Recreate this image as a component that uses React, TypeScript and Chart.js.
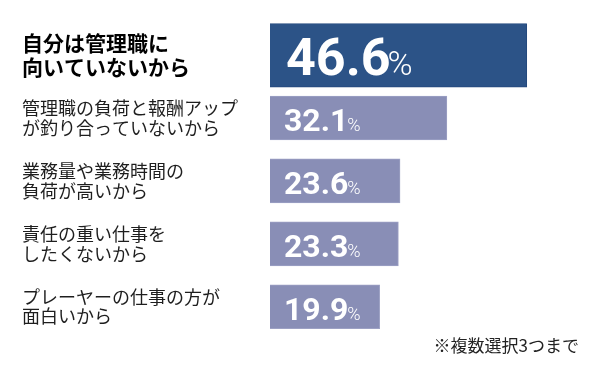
import React, { useEffect, useRef } from "react";
import { Chart, registerables } from "chart.js";

Chart.register(...registerables);

const categories: string[][] = [
  ["自分は管理職に", "向いていないから"],
  ["管理職の負荷と報酬アップ", "が釣り合っていないから"],
  ["業務量や業務時間の", "負荷が高いから"],
  ["責任の重い仕事を", "したくないから"],
  ["プレーヤーの仕事の方が", "面白いから"],
];
const values: number[] = [46.6, 32.1, 23.6, 23.3, 19.9];
const footnote = "※複数選択3つまで";

const HIGHLIGHT = "#2c5387";
const NORMAL = "#898eb6";
const JP_FONT = "'Noto Sans CJK JP', 'Noto Sans', sans-serif";
const NUM_FONT = "Roboto, 'Noto Sans', sans-serif";

const valueLabelPlugin = {
  id: "valueLabels",
  afterDatasetsDraw(chart: any) {
    const ctx = chart.ctx;
    ctx.save();
    values.forEach((v, i) => {
      const meta = chart.getDatasetMeta(i === 0 ? 0 : 1);
      const el = meta.data[i];
      if (!el) return;
      const big = i === 0;
      const numSize = big ? 52 : 32;
      const pctSize = big ? 34 : 18;
      const x0 = el.base + (big ? 16 : 14);
      const baseline = el.y + numSize * 0.37 + 1;
      const txt = v.toFixed(1);
      ctx.fillStyle = "#ffffff";
      ctx.textAlign = "left";
      ctx.textBaseline = "alphabetic";
      ctx.font = `bold ${numSize}px ${NUM_FONT}`;
      ctx.fillText(txt, x0, baseline);
      const w = ctx.measureText(txt).width;
      ctx.font = `300 ${pctSize}px ${NUM_FONT}`;
      ctx.fillText("%", x0 + w + (big ? -3 : -1), baseline);
    });
    ctx.restore();
  },
};

const footnotePlugin = {
  id: "footnote",
  afterDraw(chart: any) {
    const ctx = chart.ctx;
    ctx.save();
    ctx.fillStyle = "#222222";
    ctx.font = `17px ${JP_FONT}`;
    ctx.textAlign = "right";
    ctx.textBaseline = "middle";
    ctx.fillText(footnote, 579, 346);
    ctx.restore();
  },
};

export default function App() {
  const ref = useRef<HTMLCanvasElement | null>(null);

  useEffect(() => {
    document.body.style.margin = "0";
    if (!ref.current) return;
    const chart = new Chart(ref.current, {
      type: "bar",
      data: {
        labels: categories,
        datasets: [
          {
            data: values.map((v, i) => (i === 0 ? v : null)),
            backgroundColor: HIGHLIGHT,
            borderColor: "#24487c",
            borderWidth: 1,
            barThickness: 64,
            grouped: false,
          } as any,
          {
            data: values.map((v, i) => (i === 0 ? null : v)),
            backgroundColor: NORMAL,
            borderColor: "#9da1c4",
            borderWidth: 1,
            barThickness: 44,
            grouped: false,
          } as any,
        ],
      },
      options: {
        indexAxis: "y",
        animation: false,
        responsive: true,
        maintainAspectRatio: false,
        layout: {
          padding: { left: 22, right: 54.5, top: 23.6, bottom: 34.8 },
        },
        plugins: {
          legend: { display: false },
          tooltip: { enabled: false },
        },
        scales: {
          x: {
            display: false,
            min: 0,
            max: 50,
          },
          y: {
            grid: { display: false },
            border: { display: false },
            afterFit: (scale: any) => {
              scale.width = 248;
            },
            ticks: {
              crossAlign: "far",
              color: (c: any) => (c.index === 0 ? "#000000" : "#1e1e1e"),
              font: (c: any) =>
                c.index === 0
                  ? { family: JP_FONT, size: 21, weight: "bold", lineHeight: 1.18 }
                  : { family: JP_FONT, size: 18, weight: "normal", lineHeight: 1.1 },
            },
          },
        },
      } as any,
      plugins: [valueLabelPlugin, footnotePlugin],
    });
    return () => chart.destroy();
  }, []);

  return (
    <div style={{ width: 600, height: 373, position: "relative" }}>
      <canvas ref={ref} />
    </div>
  );
}
